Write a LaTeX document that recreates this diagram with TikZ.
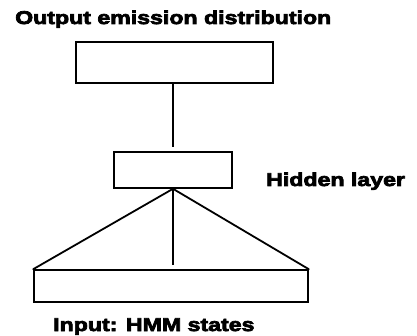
\documentclass[tikz,border=0pt]{standalone}
\usepackage{fontspec}
\newfontfamily\heavy[FakeBold=4,FakeStretch=1.25]{Liberation Sans Bold}
\begin{document}
\begin{tikzpicture}[x=1pt,y=-1pt,
  layerbox/.style={draw=black,line width=1.6pt,fill=white,inner sep=0pt},
  wire/.style={draw=black,line width=1.8pt},
  caption/.style={inner sep=0pt,font=\heavy\fontsize{18.5}{21}\selectfont}]
\useasboundingbox[fill=white] (0,0) rectangle (417,336);

% layers
\node[layerbox,minimum width=197pt,minimum height=41pt] (outbox) at (174.5,62.5) {};
\node[layerbox,minimum width=118pt,minimum height=36pt] (hidbox) at (173,170) {};
\node[layerbox,minimum width=274pt,minimum height=32pt] (inbox) at (171,286) {};

% captions
\node[caption,anchor=base west] (outlab) at (15,24) {Output emission distribution};
\node[caption,anchor=base west] (hidlab) at (266,186) {Hidden layer};
\node[caption,anchor=base west] (inlab) at (53,331) {Input: HMM states};

% connections
\draw[wire,shorten >=4pt] (outbox.south -| hidbox.north) -- (hidbox.north);
\draw[wire,shorten >=4pt] (hidbox.south) -- (hidbox.south |- inbox.north);
\draw[wire,line cap=round] (hidbox.south) -- (inbox.north west);
\draw[wire,line cap=round] (hidbox.south) -- (inbox.north east);
\end{tikzpicture}
\end{document}
